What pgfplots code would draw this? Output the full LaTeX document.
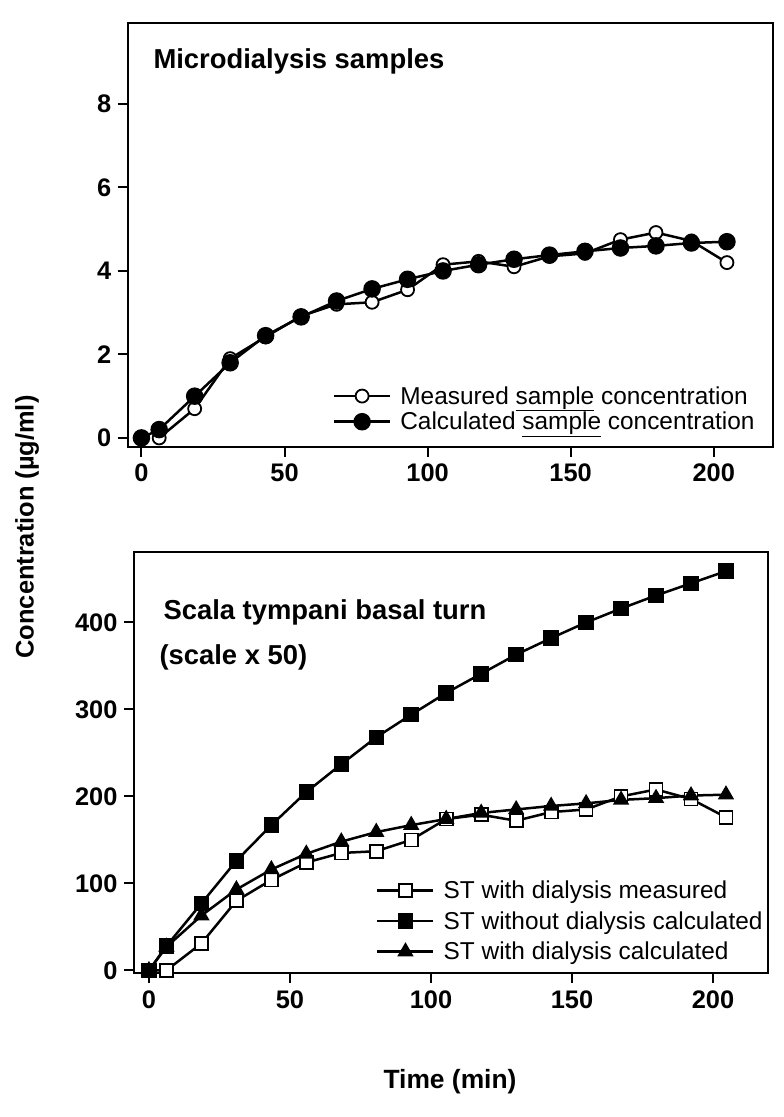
\documentclass[border=0pt]{standalone}
\usepackage{pgfplots}
\pgfplotsset{compat=1.18}
\usepackage{fontspec}
\setmainfont{Liberation Sans}
\begin{document}
\begin{tikzpicture}
\path[use as bounding box] (0bp,0bp) rectangle (784bp,1117bp);
\pgfplotsset{
  every axis/.append style={
    scale only axis,
    axis line style={line width=2bp},
    tick align=outside,
    xtick pos=bottom, ytick pos=left,
    major tick length=10bp,
    every tick/.style={line width=2bp,black},
    tick label style={font=\fontsize{25.5}{25.5}\bfseries\selectfont},
    yticklabel style={xshift=-3bp},
    /pgf/number format/assume math mode=true,
    legend cell align=left,
    legend style={draw=none, fill=none, font=\fontsize{24.5}{28}\selectfont, column sep=7bp},
    legend image code/.code={
      \draw[#1,mark repeat=2,mark phase=2] plot coordinates {(0bp,0bp) (28bp,0bp) (56bp,0bp)};
    },
  },
  ser/.style={black, line width=2.5bp},
}
% ---------- top ----------
\begin{axis}[
  at={(127.7bp,670.3bp)}, anchor=south west,
  width=645.3bp, height=423.7bp,
  xmin=-4.8, xmax=220.7, ymin=-0.21, ymax=9.94,
  xtick={0,50,100,150,200}, ytick={0,2,4,6,8},
  xticklabel style={yshift=-4bp},
  legend style={at={(0.313,0.152)}, anchor=north west, row sep=2.5bp},
]
\addplot[ser, mark=*, mark options={fill=white, line width=1.8bp}, mark size=6.5bp] coordinates {
(6.2,0) (18.6,0.7) (31,1.9) (43.4,2.42) (55.8,2.92) (68.2,3.2) (80.6,3.25) (93,3.55) (105.4,4.15) (117.8,4.23) (130.2,4.1) (142.6,4.35) (155,4.42) (167.4,4.75) (179.8,4.92) (192.2,4.72) (204.6,4.2)};
\addlegendentry{Measured \underline{sample} concentration}
\addplot[ser, mark=*, mark options={fill=black}, mark size=7.5bp] coordinates {
(0,0) (6.2,0.2) (18.6,1.0) (31,1.8) (43.4,2.45) (55.8,2.9) (68.2,3.28) (80.6,3.57) (93,3.8) (105.4,4.0) (117.8,4.15) (130.2,4.28) (142.6,4.38) (155,4.47) (167.4,4.55) (179.8,4.6) (192.2,4.67) (204.6,4.7)};
\addlegendentry{Calculated \underline{sample} concentration}
\end{axis}
% ---------- bottom ----------
\begin{axis}[
  at={(134bp,144bp)}, anchor=south west,
  width=634bp, height=421bp,
  xmin=-5.3, xmax=219.5, ymin=-3, ymax=481,
  xtick={0,50,100,150,200}, ytick={0,100,200,300,400},
  xticklabel style={yshift=-4bp},
  legend style={at={(0.377,0.229)}, anchor=north west, row sep=7.5bp},
]
\addplot[ser, mark=square*, mark options={fill=white, line width=1.8bp}, mark size=6.5bp] coordinates {
(0,0) (6.2,0) (18.6,31) (31,80) (43.4,104) (55.8,124) (68.2,135) (80.6,137) (93,150) (105.4,174) (117.8,179) (130.2,172) (142.6,182) (155,185) (167.4,200) (179.8,208) (192.2,197) (204.6,176)};
\addlegendentry{ST with dialysis measured}
\addplot[ser, mark=square*, mark options={fill=black}, mark size=6.5bp] coordinates {
(0,0) (6.2,28) (18.6,77) (31,126) (43.4,167) (55.8,205) (68.2,237) (80.6,268) (93,294) (105.4,319) (117.8,341) (130.2,363) (142.6,382) (155,400) (167.4,416) (179.8,431) (192.2,445) (204.6,459)};
\addlegendentry{ST without dialysis calculated}
\addplot[ser, mark=triangle*, mark options={fill=black}, mark size=7bp] coordinates {
(0,0) (6.2,27) (18.6,63) (31,93) (43.4,116) (55.8,134) (68.2,148) (80.6,159) (93,167) (105.4,174) (117.8,181) (130.2,185) (142.6,189) (155,192) (167.4,196) (179.8,198) (192.2,201) (204.6,202)};
\addlegendentry{ST with dialysis calculated}
\end{axis}
% ---------- texts ----------
\node[anchor=west, font=\fontsize{27.5}{27.5}\bfseries\selectfont] at (150bp,1056bp) {Microdialysis samples};
\node[anchor=west, font=\fontsize{27.5}{27.5}\bfseries\selectfont] at (160bp,505bp) {Scala tympani basal turn};
\node[anchor=west, font=\fontsize{27.5}{27.5}\bfseries\selectfont] at (156bp,460bp) {(scale x 50)};
\node[rotate=90, font=\fontsize{25.5}{25.5}\bfseries\selectfont] at (27bp,590bp) {Concentration (µg/ml)};
\node[font=\fontsize{26.5}{26.5}\bfseries\selectfont] at (450bp,35bp) {Time (min)};
\end{tikzpicture}
\end{document}
